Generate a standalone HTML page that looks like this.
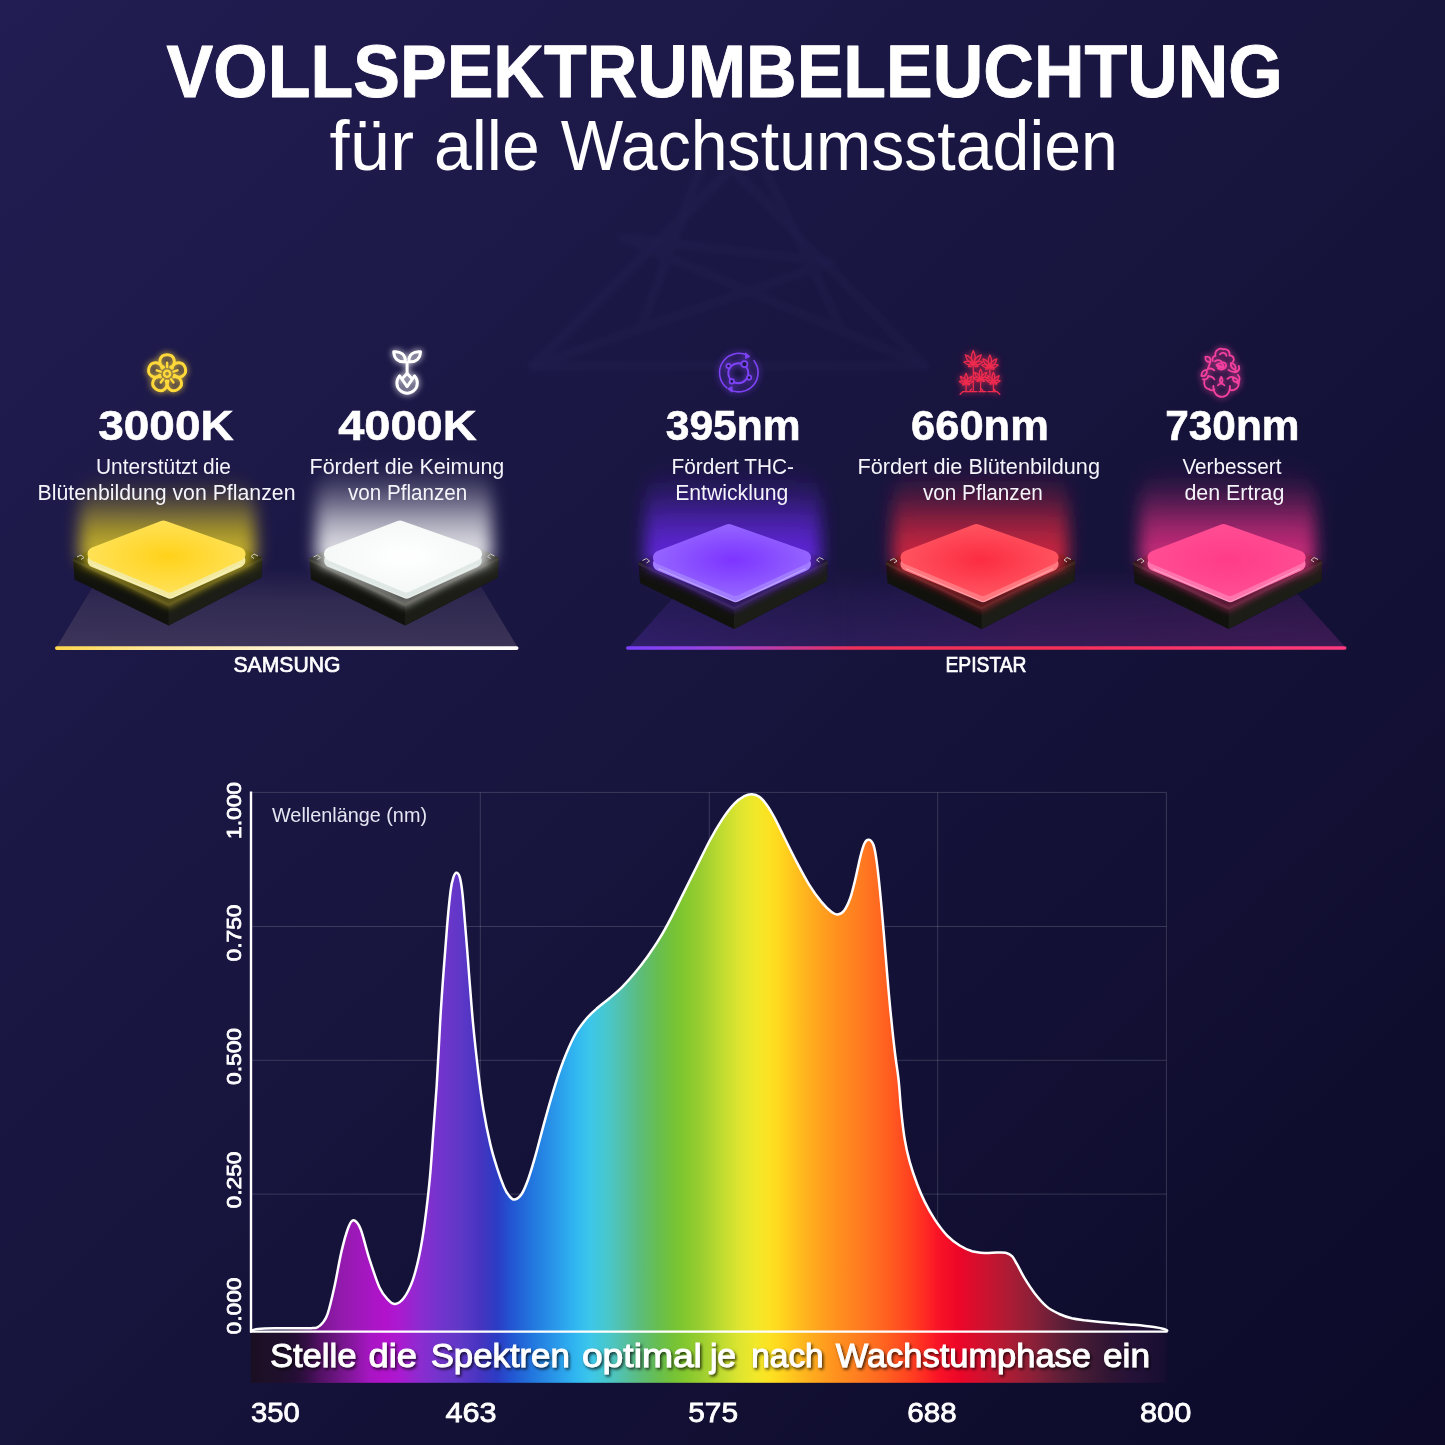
<!DOCTYPE html>
<html lang="de">
<head>
<meta charset="utf-8">
<title>Vollspektrumbeleuchtung für alle Wachstumsstadien</title>
<style>
html,body{margin:0;padding:0;background:#15133a;}
body{width:1445px;height:1445px;overflow:hidden;}
svg{display:block;font-family:"Liberation Sans", sans-serif;}
text{font-family:"Liberation Sans", sans-serif;}
</style>
</head>
<body>
<svg width="1445" height="1445" viewBox="0 0 1445 1445">

<defs>
<linearGradient id="bg" gradientUnits="userSpaceOnUse" x1="0" y1="0" x2="1400" y2="1490">
 <stop offset="0" stop-color="#221d52"/><stop offset="0.5" stop-color="#17143d"/><stop offset="1" stop-color="#0c0a28"/>
</linearGradient>
<filter id="b2" x="-50%" y="-50%" width="200%" height="200%"><feGaussianBlur stdDeviation="2"/></filter>
<filter id="b3" x="-50%" y="-50%" width="200%" height="200%"><feGaussianBlur stdDeviation="3.5"/></filter>
<filter id="b4" x="-60%" y="-60%" width="220%" height="220%"><feGaussianBlur stdDeviation="3.2"/></filter>
<filter id="b6" x="-50%" y="-50%" width="200%" height="200%"><feGaussianBlur stdDeviation="6"/></filter>
<filter id="b8" x="-50%" y="-50%" width="200%" height="200%"><feGaussianBlur stdDeviation="8"/></filter>
<filter id="b10" x="-50%" y="-50%" width="200%" height="200%"><feGaussianBlur stdDeviation="10"/></filter>
<filter id="ts" x="-5%" y="-30%" width="110%" height="160%"><feDropShadow dx="1.5" dy="2" stdDeviation="1.5" flood-color="#000" flood-opacity="0.75"/></filter>
<linearGradient id="spec" gradientUnits="userSpaceOnUse" x1="251" y1="0" x2="1167" y2="0">
 <stop offset="0.0000" stop-color="#1a1030" stop-opacity="0.0"/>
 <stop offset="0.0426" stop-color="#3a1050" stop-opacity="0.55"/>
 <stop offset="0.0731" stop-color="#7a1690" stop-opacity="1"/>
 <stop offset="0.0972" stop-color="#921aac" stop-opacity="1"/>
 <stop offset="0.1190" stop-color="#a018bc" stop-opacity="1"/>
 <stop offset="0.1463" stop-color="#b212cc" stop-opacity="1"/>
 <stop offset="0.1627" stop-color="#aa1ad0" stop-opacity="1"/>
 <stop offset="0.1845" stop-color="#8c2cd0" stop-opacity="1"/>
 <stop offset="0.2063" stop-color="#7234cc" stop-opacity="1"/>
 <stop offset="0.2282" stop-color="#6038c8" stop-opacity="1"/>
 <stop offset="0.2500" stop-color="#4634c0" stop-opacity="1"/>
 <stop offset="0.2686" stop-color="#2c3cc4" stop-opacity="1"/>
 <stop offset="0.2849" stop-color="#2256d2" stop-opacity="1"/>
 <stop offset="0.3068" stop-color="#2276de" stop-opacity="1"/>
 <stop offset="0.3341" stop-color="#2a9aea" stop-opacity="1"/>
 <stop offset="0.3537" stop-color="#30b6f0" stop-opacity="1"/>
 <stop offset="0.3701" stop-color="#3cc6ea" stop-opacity="1"/>
 <stop offset="0.3865" stop-color="#46c8d0" stop-opacity="1"/>
 <stop offset="0.4028" stop-color="#52c2b0" stop-opacity="1"/>
 <stop offset="0.4247" stop-color="#5cbc7a" stop-opacity="1"/>
 <stop offset="0.4432" stop-color="#66be52" stop-opacity="1"/>
 <stop offset="0.4596" stop-color="#74c238" stop-opacity="1"/>
 <stop offset="0.4738" stop-color="#82c82e" stop-opacity="1"/>
 <stop offset="0.4924" stop-color="#9cce30" stop-opacity="1"/>
 <stop offset="0.5109" stop-color="#badA30" stop-opacity="1"/>
 <stop offset="0.5317" stop-color="#dce430" stop-opacity="1"/>
 <stop offset="0.5502" stop-color="#f0e82a" stop-opacity="1"/>
 <stop offset="0.5655" stop-color="#fce222" stop-opacity="1"/>
 <stop offset="0.5797" stop-color="#ffd41e" stop-opacity="1"/>
 <stop offset="0.5950" stop-color="#ffc01e" stop-opacity="1"/>
 <stop offset="0.6157" stop-color="#ffa81e" stop-opacity="1"/>
 <stop offset="0.6376" stop-color="#ff921e" stop-opacity="1"/>
 <stop offset="0.6648" stop-color="#ff7c20" stop-opacity="1"/>
 <stop offset="0.6921" stop-color="#ff6220" stop-opacity="1"/>
 <stop offset="0.7194" stop-color="#ff4220" stop-opacity="1"/>
 <stop offset="0.7358" stop-color="#fe2a22" stop-opacity="1"/>
 <stop offset="0.7489" stop-color="#fa1426" stop-opacity="1"/>
 <stop offset="0.7740" stop-color="#ec0628" stop-opacity="1"/>
 <stop offset="0.8013" stop-color="#cc1230" stop-opacity="1"/>
 <stop offset="0.8275" stop-color="#ac1c34" stop-opacity="1"/>
 <stop offset="0.8548" stop-color="#8a2038" stop-opacity="1"/>
 <stop offset="0.8821" stop-color="#662038" stop-opacity="0.95"/>
 <stop offset="0.9094" stop-color="#4a1c36" stop-opacity="0.9"/>
 <stop offset="0.9367" stop-color="#341634" stop-opacity="0.9"/>
 <stop offset="0.9640" stop-color="#28123a" stop-opacity="0.85"/>
 <stop offset="0.9924" stop-color="#1e1034" stop-opacity="0.7"/>
 <stop offset="1.0000" stop-color="#1a0e30" stop-opacity="0.5"/>
</linearGradient>
<linearGradient id="bandfade" gradientUnits="userSpaceOnUse" x1="251" y1="0" x2="1167" y2="0">
 <stop offset="0" stop-color="#1a0e22" stop-opacity="1"/>
 <stop offset="0.02" stop-color="#1e1028" stop-opacity="0.95"/>
 <stop offset="0.07" stop-color="#200a2c" stop-opacity="0.5"/>
 <stop offset="0.13" stop-color="#200a2c" stop-opacity="0"/>
 <stop offset="1" stop-color="#140c24" stop-opacity="0"/>
</linearGradient>
<linearGradient id="lnS" x1="0" y1="0" x2="1" y2="0">
 <stop offset="0" stop-color="#ffd64a"/><stop offset="0.2" stop-color="#ffe694"/><stop offset="0.5" stop-color="#fff4d4"/><stop offset="1" stop-color="#ffffff"/>
</linearGradient>
<linearGradient id="lnE" x1="0" y1="0" x2="1" y2="0">
 <stop offset="0" stop-color="#7a40ff"/><stop offset="0.12" stop-color="#9a44e0"/><stop offset="0.32" stop-color="#ee3058"/><stop offset="0.6" stop-color="#f43058"/><stop offset="1" stop-color="#ff3a80"/>
</linearGradient>
<linearGradient id="flS" x1="0" y1="0" x2="0" y2="1">
 <stop offset="0" stop-color="#4a4060" stop-opacity="0.0"/><stop offset="0.4" stop-color="#4a4060" stop-opacity="0.45"/><stop offset="1" stop-color="#4a4060" stop-opacity="0.72"/>
</linearGradient>
<linearGradient id="flE" x1="0" y1="0" x2="0" y2="1">
 <stop offset="0" stop-color="#4a2a80" stop-opacity="0.0"/><stop offset="0.4" stop-color="#4a2a80" stop-opacity="0.22"/><stop offset="1" stop-color="#4a2a80" stop-opacity="0.42"/>
</linearGradient>
<linearGradient id="flE2" gradientUnits="userSpaceOnUse" x1="628" y1="0" x2="1346" y2="0">
 <stop offset="0" stop-color="#3a22a0" stop-opacity="0.25"/><stop offset="0.3" stop-color="#40207a" stop-opacity="0.0"/><stop offset="0.55" stop-color="#6a1a50" stop-opacity="0.18"/><stop offset="1" stop-color="#6a1a50" stop-opacity="0.3"/>
</linearGradient>
<linearGradient id="flmg" gradientUnits="userSpaceOnUse" x1="0" y1="568" x2="0" y2="648">
 <stop offset="0" stop-color="#000"/><stop offset="0.5" stop-color="#999"/><stop offset="1" stop-color="#fff"/>
</linearGradient>
<mask id="flm" maskUnits="userSpaceOnUse" x="600" y="560" width="800" height="100"><rect x="600" y="560" width="800" height="100" fill="url(#flmg)"/></mask>
<linearGradient id="baseL" x1="0" y1="0" x2="1" y2="0">
 <stop offset="0" stop-color="#0a0a08"/><stop offset="1" stop-color="#1c1c16"/>
</linearGradient>
</defs>
<rect width="1445" height="1445" fill="url(#bg)"/><g fill="none" stroke="#8a80ff" stroke-opacity="0.018" stroke-width="10" stroke-linejoin="round" stroke-linecap="round" filter="url(#b2)"><path d="M732,168 L533,366 L925,366 Z"/><path d="M533,366 L832,262 M925,366 L623,238 M623,238 L832,262 M700,170 L640,330 M765,170 L842,330 "/></g><text x="166.6" y="97.2" font-size="73.5" font-weight="700" fill="#fff" textLength="1116.2" lengthAdjust="spacingAndGlyphs" stroke="#fff" stroke-width="0.9" stroke-linejoin="round">VOLLSPEKTRUMBELEUCHTUNG</text><text y="170.2" font-size="71" font-weight="400" fill="#fff"><tspan x="329.6" textLength="84.4" lengthAdjust="spacingAndGlyphs">für</tspan> <tspan x="433.9" textLength="105.9" lengthAdjust="spacingAndGlyphs">alle</tspan> <tspan x="560.8" textLength="557.0" lengthAdjust="spacingAndGlyphs">Wachstumsstadien</tspan></text><path d="M56,648 L104,568 L470,568 L518,648 Z" fill="url(#flS)"/><path d="M628,648 L700,568 L1274,568 L1346,648 Z" fill="url(#flE)"/><path d="M628,648 L700,568 L1274,568 L1346,648 Z" fill="url(#flE2)" mask="url(#flm)"/><linearGradient id="gla" gradientUnits="userSpaceOnUse" x1="0" y1="472.5" x2="0" y2="546.5">
 <stop offset="0" stop-color="#e8d020" stop-opacity="0"/><stop offset="0.2" stop-color="#e8d020" stop-opacity="0.08"/><stop offset="0.45" stop-color="#e8d020" stop-opacity="0.30"/><stop offset="0.7" stop-color="#e8d020" stop-opacity="0.58"/><stop offset="1" stop-color="#e8d020" stop-opacity="0.8"/>
</linearGradient>
<radialGradient id="pda" gradientUnits="userSpaceOnUse" cx="167.5" cy="556.5" r="85" gradientTransform="translate(0 306.1) scale(1 0.45)">
 <stop offset="0" stop-color="#ffd21a"/><stop offset="1" stop-color="#ffe25a"/>
</radialGradient>
<path d="M73.0,558.5 L87.0,551.5 L248.0,550.5 L262.0,557.5 L261.5,577.5 L168.5,625.5 L74.5,579.5 Z" fill="#11120d"/><path d="M168.5,603.5 L262.0,557.5 L261.5,577.5 L168.5,625.5 Z" fill="#1b1d16"/><path d="M73.0,558.5 L168.5,603.5 L262.0,557.5 L262.0,560.5 L168.5,606.5 L73.0,561.5 Z" fill="#26261c"/><path d="M79.5,560.5 L79.5,512.5 Q79.5,472.5 119.5,472.5 L215.5,472.5 Q255.5,472.5 255.5,512.5 L255.5,560.5 L167.5,588.5 Z" fill="url(#gla)" filter="url(#b8)"/><path d="M85.0,561.5 L168.5,603.5 L250.0,560.5" fill="none" stroke="#e8d020" stroke-opacity="0.4" stroke-width="9" filter="url(#b4)"/><path d="M77.0,557.0 l4,-2 l3,2.5 l-3,2" fill="none" stroke="#c8c8c0" stroke-width="1"/><path d="M258.0,556.0 l-4,-2 l-3,2.5 l3,2" fill="none" stroke="#c8c8c0" stroke-width="1"/><path d="M94.5,560.5 L163.5,531.5 L238.5,560.5 L170.0,591.5 Z" fill="#f3eaa0" stroke="#f3eaa0" stroke-width="14" stroke-linejoin="round"/><path d="M93.5,565.5 L170.0,598.5 L239.5,565.5" fill="none" stroke="#ffffff" stroke-opacity="0.3" stroke-width="1.3" stroke-linejoin="round" stroke-linecap="round"/><path d="M94.5,554.0 L163.5,527.5 L238.5,554.0 L170.0,585.5 Z" fill="url(#pda)" stroke="url(#pda)" stroke-width="14" stroke-linejoin="round"/><linearGradient id="glb" gradientUnits="userSpaceOnUse" x1="0" y1="460.5" x2="0" y2="546.5">
 <stop offset="0" stop-color="#ffffff" stop-opacity="0"/><stop offset="0.2" stop-color="#ffffff" stop-opacity="0.09"/><stop offset="0.45" stop-color="#ffffff" stop-opacity="0.32"/><stop offset="0.7" stop-color="#ffffff" stop-opacity="0.61"/><stop offset="1" stop-color="#ffffff" stop-opacity="0.85"/>
</linearGradient>
<radialGradient id="pdb" gradientUnits="userSpaceOnUse" cx="404" cy="556.5" r="85" gradientTransform="translate(0 306.1) scale(1 0.45)">
 <stop offset="0" stop-color="#ffffff"/><stop offset="1" stop-color="#f4f8f6"/>
</radialGradient>
<path d="M309.5,558.5 L323.5,551.5 L484.5,550.5 L498.5,557.5 L498.0,577.5 L405,625.5 L311.0,579.5 Z" fill="#11120d"/><path d="M405,603.5 L498.5,557.5 L498.0,577.5 L405,625.5 Z" fill="#1b1d16"/><path d="M309.5,558.5 L405,603.5 L498.5,557.5 L498.5,560.5 L405,606.5 L309.5,561.5 Z" fill="#26261c"/><path d="M316,560.5 L316,500.5 Q316,460.5 356,460.5 L452,460.5 Q492,460.5 492,500.5 L492,560.5 L404,588.5 Z" fill="url(#glb)" filter="url(#b8)"/><path d="M321.5,561.5 L405,603.5 L486.5,560.5" fill="none" stroke="#ffffff" stroke-opacity="0.4" stroke-width="9" filter="url(#b4)"/><path d="M313.5,557.0 l4,-2 l3,2.5 l-3,2" fill="none" stroke="#c8c8c0" stroke-width="1"/><path d="M494.5,556.0 l-4,-2 l-3,2.5 l3,2" fill="none" stroke="#c8c8c0" stroke-width="1"/><path d="M331,560.5 L400,531.5 L475,560.5 L406.5,591.5 Z" fill="#dfe8e4" stroke="#dfe8e4" stroke-width="14" stroke-linejoin="round"/><path d="M330,565.5 L406.5,598.5 L476,565.5" fill="none" stroke="#ffffff" stroke-opacity="0.3" stroke-width="1.3" stroke-linejoin="round" stroke-linecap="round"/><path d="M331,554.0 L400,527.5 L475,554.0 L406.5,585.5 Z" fill="url(#pdb)" stroke="url(#pdb)" stroke-width="14" stroke-linejoin="round"/><linearGradient id="glc" gradientUnits="userSpaceOnUse" x1="0" y1="464" x2="0" y2="550">
 <stop offset="0" stop-color="#6a28f0" stop-opacity="0"/><stop offset="0.2" stop-color="#6a28f0" stop-opacity="0.09"/><stop offset="0.45" stop-color="#6a28f0" stop-opacity="0.32"/><stop offset="0.7" stop-color="#6a28f0" stop-opacity="0.61"/><stop offset="1" stop-color="#6a28f0" stop-opacity="0.85"/>
</linearGradient>
<radialGradient id="pdc" gradientUnits="userSpaceOnUse" cx="733" cy="560" r="85" gradientTransform="translate(0 308.0) scale(1 0.45)">
 <stop offset="0" stop-color="#7c34ff"/><stop offset="1" stop-color="#9668ff"/>
</radialGradient>
<path d="M638.5,562 L652.5,555 L813.5,554 L827.5,561 L827.0,581 L734,629 L640.0,583 Z" fill="#11120d"/><path d="M734,607 L827.5,561 L827.0,581 L734,629 Z" fill="#1b1d16"/><path d="M638.5,562 L734,607 L827.5,561 L827.5,564 L734,610 L638.5,565 Z" fill="#26261c"/><path d="M645,564 L645,504 Q645,464 685,464 L781,464 Q821,464 821,504 L821,564 L733,592 Z" fill="url(#glc)" filter="url(#b8)"/><path d="M650.5,565 L734,607 L815.5,564" fill="none" stroke="#6a28f0" stroke-opacity="0.4" stroke-width="9" filter="url(#b4)"/><path d="M642.5,560.5 l4,-2 l3,2.5 l-3,2" fill="none" stroke="#c8c8c0" stroke-width="1"/><path d="M823.5,559.5 l-4,-2 l-3,2.5 l3,2" fill="none" stroke="#c8c8c0" stroke-width="1"/><path d="M660,564 L729,535 L804,564 L735.5,595 Z" fill="#a27cff" stroke="#a27cff" stroke-width="14" stroke-linejoin="round"/><path d="M659,569 L735.5,602 L805,569" fill="none" stroke="#ffffff" stroke-opacity="0.3" stroke-width="1.3" stroke-linejoin="round" stroke-linecap="round"/><path d="M660,557.5 L729,531 L804,557.5 L735.5,589 Z" fill="url(#pdc)" stroke="url(#pdc)" stroke-width="14" stroke-linejoin="round"/><linearGradient id="gld" gradientUnits="userSpaceOnUse" x1="0" y1="464" x2="0" y2="550">
 <stop offset="0" stop-color="#f02840" stop-opacity="0"/><stop offset="0.2" stop-color="#f02840" stop-opacity="0.08"/><stop offset="0.45" stop-color="#f02840" stop-opacity="0.30"/><stop offset="0.7" stop-color="#f02840" stop-opacity="0.58"/><stop offset="1" stop-color="#f02840" stop-opacity="0.8"/>
</linearGradient>
<radialGradient id="pdd" gradientUnits="userSpaceOnUse" cx="980.5" cy="560" r="85" gradientTransform="translate(0 308.0) scale(1 0.45)">
 <stop offset="0" stop-color="#fc2c42"/><stop offset="1" stop-color="#ff5662"/>
</radialGradient>
<path d="M886.0,562 L900.0,555 L1061.0,554 L1075.0,561 L1074.5,581 L981.5,629 L887.5,583 Z" fill="#11120d"/><path d="M981.5,607 L1075.0,561 L1074.5,581 L981.5,629 Z" fill="#1b1d16"/><path d="M886.0,562 L981.5,607 L1075.0,561 L1075.0,564 L981.5,610 L886.0,565 Z" fill="#26261c"/><path d="M892.5,564 L892.5,504 Q892.5,464 932.5,464 L1028.5,464 Q1068.5,464 1068.5,504 L1068.5,564 L980.5,592 Z" fill="url(#gld)" filter="url(#b8)"/><path d="M898.0,565 L981.5,607 L1063.0,564" fill="none" stroke="#f02840" stroke-opacity="0.4" stroke-width="9" filter="url(#b4)"/><path d="M890.0,560.5 l4,-2 l3,2.5 l-3,2" fill="none" stroke="#c8c8c0" stroke-width="1"/><path d="M1071.0,559.5 l-4,-2 l-3,2.5 l3,2" fill="none" stroke="#c8c8c0" stroke-width="1"/><path d="M907.5,564 L976.5,535 L1051.5,564 L983.0,595 Z" fill="#ff7880" stroke="#ff7880" stroke-width="14" stroke-linejoin="round"/><path d="M906.5,569 L983.0,602 L1052.5,569" fill="none" stroke="#ffffff" stroke-opacity="0.3" stroke-width="1.3" stroke-linejoin="round" stroke-linecap="round"/><path d="M907.5,557.5 L976.5,531 L1051.5,557.5 L983.0,589 Z" fill="url(#pdd)" stroke="url(#pdd)" stroke-width="14" stroke-linejoin="round"/><linearGradient id="gle" gradientUnits="userSpaceOnUse" x1="0" y1="464" x2="0" y2="550">
 <stop offset="0" stop-color="#f03088" stop-opacity="0"/><stop offset="0.2" stop-color="#f03088" stop-opacity="0.08"/><stop offset="0.45" stop-color="#f03088" stop-opacity="0.30"/><stop offset="0.7" stop-color="#f03088" stop-opacity="0.58"/><stop offset="1" stop-color="#f03088" stop-opacity="0.8"/>
</linearGradient>
<radialGradient id="pde" gradientUnits="userSpaceOnUse" cx="1227.6" cy="560" r="85" gradientTransform="translate(0 308.0) scale(1 0.45)">
 <stop offset="0" stop-color="#ff3c88"/><stop offset="1" stop-color="#ff4e94"/>
</radialGradient>
<path d="M1133.1,562 L1147.1,555 L1308.1,554 L1322.1,561 L1321.6,581 L1228.6,629 L1134.6,583 Z" fill="#11120d"/><path d="M1228.6,607 L1322.1,561 L1321.6,581 L1228.6,629 Z" fill="#1b1d16"/><path d="M1133.1,562 L1228.6,607 L1322.1,561 L1322.1,564 L1228.6,610 L1133.1,565 Z" fill="#26261c"/><path d="M1139.6,564 L1139.6,504 Q1139.6,464 1179.6,464 L1275.6,464 Q1315.6,464 1315.6,504 L1315.6,564 L1227.6,592 Z" fill="url(#gle)" filter="url(#b8)"/><path d="M1145.1,565 L1228.6,607 L1310.1,564" fill="none" stroke="#f03088" stroke-opacity="0.4" stroke-width="9" filter="url(#b4)"/><path d="M1137.1,560.5 l4,-2 l3,2.5 l-3,2" fill="none" stroke="#c8c8c0" stroke-width="1"/><path d="M1318.1,559.5 l-4,-2 l-3,2.5 l3,2" fill="none" stroke="#c8c8c0" stroke-width="1"/><path d="M1154.6,564 L1223.6,535 L1298.6,564 L1230.1,595 Z" fill="#ff74ac" stroke="#ff74ac" stroke-width="14" stroke-linejoin="round"/><path d="M1153.6,569 L1230.1,602 L1299.6,569" fill="none" stroke="#ffffff" stroke-opacity="0.3" stroke-width="1.3" stroke-linejoin="round" stroke-linecap="round"/><path d="M1154.6,557.5 L1223.6,531 L1298.6,557.5 L1230.1,589 Z" fill="url(#pde)" stroke="url(#pde)" stroke-width="14" stroke-linejoin="round"/><rect x="55" y="646.2" width="463.5" height="3.8" rx="1.9" fill="url(#lnS)"/><rect x="626" y="646.2" width="720.5" height="3.6" rx="1.8" fill="url(#lnE)"/><text x="233.5" y="672.3" font-size="22" font-weight="400" fill="#fff" textLength="107.0" lengthAdjust="spacingAndGlyphs" stroke="#fff" stroke-width="0.7">SAMSUNG</text><text x="945.5" y="672.3" font-size="22" font-weight="400" fill="#fff" textLength="81.0" lengthAdjust="spacingAndGlyphs" stroke="#fff" stroke-width="0.7">EPISTAR</text><g filter="url(#b4)" opacity="0.88"><g transform="translate(167.1,373.7) scale(0.99)" fill="none" stroke="#ffd93a" stroke-width="3.0" stroke-linecap="round" stroke-linejoin="round"><g transform="rotate(0)"><path d="M-3.6,-6.6 C-9.6,-9.5 -8.2,-19.2 0,-19.2 C8.2,-19.2 9.6,-9.5 3.6,-6.6"/><path d="M0,-6.8 L0,-11" stroke-width="2.5"/></g><g transform="rotate(72)"><path d="M-3.6,-6.6 C-9.6,-9.5 -8.2,-19.2 0,-19.2 C8.2,-19.2 9.6,-9.5 3.6,-6.6"/><path d="M0,-6.8 L0,-11" stroke-width="2.5"/></g><g transform="rotate(144)"><path d="M-3.6,-6.6 C-9.6,-9.5 -8.2,-19.2 0,-19.2 C8.2,-19.2 9.6,-9.5 3.6,-6.6"/><path d="M0,-6.8 L0,-11" stroke-width="2.5"/></g><g transform="rotate(216)"><path d="M-3.6,-6.6 C-9.6,-9.5 -8.2,-19.2 0,-19.2 C8.2,-19.2 9.6,-9.5 3.6,-6.6"/><path d="M0,-6.8 L0,-11" stroke-width="2.5"/></g><g transform="rotate(288)"><path d="M-3.6,-6.6 C-9.6,-9.5 -8.2,-19.2 0,-19.2 C8.2,-19.2 9.6,-9.5 3.6,-6.6"/><path d="M0,-6.8 L0,-11" stroke-width="2.5"/></g><circle r="3.1" stroke-width="2.5"/></g><g transform="translate(167.1,373.7) scale(0.99)" fill="none" stroke="#ffd93a" stroke-width="3.0" stroke-linecap="round" stroke-linejoin="round"><g transform="rotate(0)"><path d="M-3.6,-6.6 C-9.6,-9.5 -8.2,-19.2 0,-19.2 C8.2,-19.2 9.6,-9.5 3.6,-6.6"/><path d="M0,-6.8 L0,-11" stroke-width="2.5"/></g><g transform="rotate(72)"><path d="M-3.6,-6.6 C-9.6,-9.5 -8.2,-19.2 0,-19.2 C8.2,-19.2 9.6,-9.5 3.6,-6.6"/><path d="M0,-6.8 L0,-11" stroke-width="2.5"/></g><g transform="rotate(144)"><path d="M-3.6,-6.6 C-9.6,-9.5 -8.2,-19.2 0,-19.2 C8.2,-19.2 9.6,-9.5 3.6,-6.6"/><path d="M0,-6.8 L0,-11" stroke-width="2.5"/></g><g transform="rotate(216)"><path d="M-3.6,-6.6 C-9.6,-9.5 -8.2,-19.2 0,-19.2 C8.2,-19.2 9.6,-9.5 3.6,-6.6"/><path d="M0,-6.8 L0,-11" stroke-width="2.5"/></g><g transform="rotate(288)"><path d="M-3.6,-6.6 C-9.6,-9.5 -8.2,-19.2 0,-19.2 C8.2,-19.2 9.6,-9.5 3.6,-6.6"/><path d="M0,-6.8 L0,-11" stroke-width="2.5"/></g><circle r="3.1" stroke-width="2.5"/></g></g><g transform="translate(167.1,373.7) scale(0.99)" fill="none" stroke="#ffd93a" stroke-width="3.0" stroke-linecap="round" stroke-linejoin="round"><g transform="rotate(0)"><path d="M-3.6,-6.6 C-9.6,-9.5 -8.2,-19.2 0,-19.2 C8.2,-19.2 9.6,-9.5 3.6,-6.6"/><path d="M0,-6.8 L0,-11" stroke-width="2.5"/></g><g transform="rotate(72)"><path d="M-3.6,-6.6 C-9.6,-9.5 -8.2,-19.2 0,-19.2 C8.2,-19.2 9.6,-9.5 3.6,-6.6"/><path d="M0,-6.8 L0,-11" stroke-width="2.5"/></g><g transform="rotate(144)"><path d="M-3.6,-6.6 C-9.6,-9.5 -8.2,-19.2 0,-19.2 C8.2,-19.2 9.6,-9.5 3.6,-6.6"/><path d="M0,-6.8 L0,-11" stroke-width="2.5"/></g><g transform="rotate(216)"><path d="M-3.6,-6.6 C-9.6,-9.5 -8.2,-19.2 0,-19.2 C8.2,-19.2 9.6,-9.5 3.6,-6.6"/><path d="M0,-6.8 L0,-11" stroke-width="2.5"/></g><g transform="rotate(288)"><path d="M-3.6,-6.6 C-9.6,-9.5 -8.2,-19.2 0,-19.2 C8.2,-19.2 9.6,-9.5 3.6,-6.6"/><path d="M0,-6.8 L0,-11" stroke-width="2.5"/></g><circle r="3.1" stroke-width="2.5"/></g><g filter="url(#b4)" opacity="0.88"><g transform="translate(406.9,373.0)" fill="none" stroke="#ffffff" stroke-width="3" stroke-linecap="round" stroke-linejoin="round"><path d="M-13.2,-21.2 C-6,-22 -1.2,-18 -1.6,-11.2 C-8.6,-10.6 -13,-14.5 -13.2,-21.2 Z"/><path d="M13.6,-21.2 C6.4,-22 1.6,-18 2,-11.2 C9,-10.6 13.4,-14.5 13.6,-21.2 Z"/><path d="M0.2,-10.5 L0.2,0.5"/><path d="M0.2,0.5 L-3.6,4.6 M0.2,0.5 L4,4.6"/><path d="M-7.2,3 L0.2,13.6 L7.6,3"/><path d="M-7.2,3 A10.2,10.2 0 1 0 7.6,3"/></g><g transform="translate(406.9,373.0)" fill="none" stroke="#ffffff" stroke-width="3" stroke-linecap="round" stroke-linejoin="round"><path d="M-13.2,-21.2 C-6,-22 -1.2,-18 -1.6,-11.2 C-8.6,-10.6 -13,-14.5 -13.2,-21.2 Z"/><path d="M13.6,-21.2 C6.4,-22 1.6,-18 2,-11.2 C9,-10.6 13.4,-14.5 13.6,-21.2 Z"/><path d="M0.2,-10.5 L0.2,0.5"/><path d="M0.2,0.5 L-3.6,4.6 M0.2,0.5 L4,4.6"/><path d="M-7.2,3 L0.2,13.6 L7.6,3"/><path d="M-7.2,3 A10.2,10.2 0 1 0 7.6,3"/></g></g><g transform="translate(406.9,373.0)" fill="none" stroke="#ffffff" stroke-width="3" stroke-linecap="round" stroke-linejoin="round"><path d="M-13.2,-21.2 C-6,-22 -1.2,-18 -1.6,-11.2 C-8.6,-10.6 -13,-14.5 -13.2,-21.2 Z"/><path d="M13.6,-21.2 C6.4,-22 1.6,-18 2,-11.2 C9,-10.6 13.4,-14.5 13.6,-21.2 Z"/><path d="M0.2,-10.5 L0.2,0.5"/><path d="M0.2,0.5 L-3.6,4.6 M0.2,0.5 L4,4.6"/><path d="M-7.2,3 L0.2,13.6 L7.6,3"/><path d="M-7.2,3 A10.2,10.2 0 1 0 7.6,3"/></g><g filter="url(#b4)" opacity="0.96"><g transform="translate(738.8,372.6)" fill="none" stroke="#7d42f5" stroke-width="1.6" stroke-linecap="round" stroke-linejoin="round"><path d="M-11.9,15.2 A19.3,19.3 0 0 1 9.1,-17.0"/><path d="M15.2,-11.9 A19.3,19.3 0 0 1 -9.1,17.0"/><path d="M7.1,-19.3 L11.1,-16.1 L7.1,-14.3 Z" fill="#7d42f5" stroke-width="1"/><path d="M-7.0,19.3 L-11.0,16.1 L-7.0,14.3 Z" fill="#7d42f5" stroke-width="1"/><circle cx="-0.5" cy="0.6" r="10" stroke-width="1.9"/><circle cx="5.6" cy="-8.4" r="3.0" fill="#1b1745" stroke-width="1.7"/><circle cx="-10.3" cy="-6.6" r="2.1" fill="#1b1745" stroke-width="1.7"/><circle cx="10.3" cy="5.0" r="2.2" fill="#1b1745" stroke-width="1.7"/><circle cx="-7.0" cy="8.8" r="2.2" fill="#1b1745" stroke-width="1.7"/></g></g><g transform="translate(738.8,372.6)" fill="none" stroke="#7d42f5" stroke-width="1.6" stroke-linecap="round" stroke-linejoin="round"><path d="M-11.9,15.2 A19.3,19.3 0 0 1 9.1,-17.0"/><path d="M15.2,-11.9 A19.3,19.3 0 0 1 -9.1,17.0"/><path d="M7.1,-19.3 L11.1,-16.1 L7.1,-14.3 Z" fill="#7d42f5" stroke-width="1"/><path d="M-7.0,19.3 L-11.0,16.1 L-7.0,14.3 Z" fill="#7d42f5" stroke-width="1"/><circle cx="-0.5" cy="0.6" r="10" stroke-width="1.9"/><circle cx="5.6" cy="-8.4" r="3.0" fill="#1b1745" stroke-width="1.7"/><circle cx="-10.3" cy="-6.6" r="2.1" fill="#1b1745" stroke-width="1.7"/><circle cx="10.3" cy="5.0" r="2.2" fill="#1b1745" stroke-width="1.7"/><circle cx="-7.0" cy="8.8" r="2.2" fill="#1b1745" stroke-width="1.7"/></g><g filter="url(#b4)" opacity="0.96"><g transform="translate(979.9,371.8)" fill="none" stroke="#ee2b4f" stroke-width="1.3" stroke-linecap="round" stroke-linejoin="round"><g transform="translate(-6.6,-8.0)"><path transform="rotate(0)" d="M0,0 C-2.6,-4.0 -2.6,-8.2 0,-13.2 C2.6,-8.2 2.6,-4.0 0,0 Z"/><path transform="rotate(-42)" d="M0,0 C-2.5,-3.6 -2.5,-7.4 0,-11.9 C2.5,-7.4 2.5,-3.6 0,0 Z"/><path transform="rotate(42)" d="M0,0 C-2.5,-3.6 -2.5,-7.4 0,-11.9 C2.5,-7.4 2.5,-3.6 0,0 Z"/><path transform="rotate(-80)" d="M0,0 C-2.4,-2.9 -2.4,-5.9 0,-9.5 C2.4,-5.9 2.4,-2.9 0,0 Z"/><path transform="rotate(80)" d="M0,0 C-2.4,-2.9 -2.4,-5.9 0,-9.5 C2.4,-5.9 2.4,-2.9 0,0 Z"/><path transform="rotate(-120)" d="M0,0 C-1.8,-1.7 -1.8,-3.4 0,-5.5 C1.8,-3.4 1.8,-1.7 0,0 Z"/><path transform="rotate(120)" d="M0,0 C-1.8,-1.7 -1.8,-3.4 0,-5.5 C1.8,-3.4 1.8,-1.7 0,0 Z"/></g><g transform="translate(10.0,-5.2)"><path transform="rotate(0)" d="M0,0 C-2.3,-3.5 -2.3,-7.2 0,-11.6 C2.3,-7.2 2.3,-3.5 0,0 Z"/><path transform="rotate(-42)" d="M0,0 C-2.2,-3.1 -2.2,-6.5 0,-10.4 C2.2,-6.5 2.2,-3.1 0,0 Z"/><path transform="rotate(42)" d="M0,0 C-2.2,-3.1 -2.2,-6.5 0,-10.4 C2.2,-6.5 2.2,-3.1 0,0 Z"/><path transform="rotate(-80)" d="M0,0 C-2.1,-2.5 -2.1,-5.2 0,-8.4 C2.1,-5.2 2.1,-2.5 0,0 Z"/><path transform="rotate(80)" d="M0,0 C-2.1,-2.5 -2.1,-5.2 0,-8.4 C2.1,-5.2 2.1,-2.5 0,0 Z"/><path transform="rotate(-120)" d="M0,0 C-1.6,-1.5 -1.6,-3.0 0,-4.9 C1.6,-3.0 1.6,-1.5 0,0 Z"/><path transform="rotate(120)" d="M0,0 C-1.6,-1.5 -1.6,-3.0 0,-4.9 C1.6,-3.0 1.6,-1.5 0,0 Z"/></g><g transform="translate(-13.8,11.0)"><path transform="rotate(0)" d="M0,0 C-1.9,-2.9 -1.9,-6.0 0,-9.6 C1.9,-6.0 1.9,-2.9 0,0 Z"/><path transform="rotate(-42)" d="M0,0 C-1.8,-2.6 -1.8,-5.4 0,-8.6 C1.8,-5.4 1.8,-2.6 0,0 Z"/><path transform="rotate(42)" d="M0,0 C-1.8,-2.6 -1.8,-5.4 0,-8.6 C1.8,-5.4 1.8,-2.6 0,0 Z"/><path transform="rotate(-80)" d="M0,0 C-1.7,-2.1 -1.7,-4.3 0,-6.9 C1.7,-4.3 1.7,-2.1 0,0 Z"/><path transform="rotate(80)" d="M0,0 C-1.7,-2.1 -1.7,-4.3 0,-6.9 C1.7,-4.3 1.7,-2.1 0,0 Z"/><path transform="rotate(-120)" d="M0,0 C-1.3,-1.2 -1.3,-2.5 0,-4.0 C1.3,-2.5 1.3,-1.2 0,0 Z"/><path transform="rotate(120)" d="M0,0 C-1.3,-1.2 -1.3,-2.5 0,-4.0 C1.3,-2.5 1.3,-1.2 0,0 Z"/></g><g transform="translate(0.7,7.4)"><path transform="rotate(0)" d="M0,0 C-2.0,-3.1 -2.0,-6.3 0,-10.2 C2.0,-6.3 2.0,-3.1 0,0 Z"/><path transform="rotate(-42)" d="M0,0 C-1.9,-2.8 -1.9,-5.7 0,-9.2 C1.9,-5.7 1.9,-2.8 0,0 Z"/><path transform="rotate(42)" d="M0,0 C-1.9,-2.8 -1.9,-5.7 0,-9.2 C1.9,-5.7 1.9,-2.8 0,0 Z"/><path transform="rotate(-80)" d="M0,0 C-1.8,-2.2 -1.8,-4.6 0,-7.3 C1.8,-4.6 1.8,-2.2 0,0 Z"/><path transform="rotate(80)" d="M0,0 C-1.8,-2.2 -1.8,-4.6 0,-7.3 C1.8,-4.6 1.8,-2.2 0,0 Z"/><path transform="rotate(-120)" d="M0,0 C-1.4,-1.3 -1.4,-2.7 0,-4.3 C1.4,-2.7 1.4,-1.3 0,0 Z"/><path transform="rotate(120)" d="M0,0 C-1.4,-1.3 -1.4,-2.7 0,-4.3 C1.4,-2.7 1.4,-1.3 0,0 Z"/></g><g transform="translate(13.5,10.2)"><path transform="rotate(0)" d="M0,0 C-1.9,-2.9 -1.9,-6.0 0,-9.6 C1.9,-6.0 1.9,-2.9 0,0 Z"/><path transform="rotate(-42)" d="M0,0 C-1.8,-2.6 -1.8,-5.4 0,-8.6 C1.8,-5.4 1.8,-2.6 0,0 Z"/><path transform="rotate(42)" d="M0,0 C-1.8,-2.6 -1.8,-5.4 0,-8.6 C1.8,-5.4 1.8,-2.6 0,0 Z"/><path transform="rotate(-80)" d="M0,0 C-1.7,-2.1 -1.7,-4.3 0,-6.9 C1.7,-4.3 1.7,-2.1 0,0 Z"/><path transform="rotate(80)" d="M0,0 C-1.7,-2.1 -1.7,-4.3 0,-6.9 C1.7,-4.3 1.7,-2.1 0,0 Z"/><path transform="rotate(-120)" d="M0,0 C-1.3,-1.2 -1.3,-2.5 0,-4.0 C1.3,-2.5 1.3,-1.2 0,0 Z"/><path transform="rotate(120)" d="M0,0 C-1.3,-1.2 -1.3,-2.5 0,-4.0 C1.3,-2.5 1.3,-1.2 0,0 Z"/></g><path d="M-6.6,-5 L-6.6,19.8 M10,-2.5 L10,3.5 M0.7,10 L0.7,19.8 M-13.8,13.5 L-13.8,19.8 M13.5,12.5 L13.5,19.8"/><path d="M-19.8,22.4 L-17,19.8 L-3,19.8 M-1,19.8 L6,19.8 M8,19.8 L17,19.8 L19.9,22.4"/><path d="M-10.5,19.8 l2.2,-2.6 M3.5,19.8 l-2,-2.6 M16,19.8 l-1.8,-2.4"/></g></g><g transform="translate(979.9,371.8)" fill="none" stroke="#ee2b4f" stroke-width="1.3" stroke-linecap="round" stroke-linejoin="round"><g transform="translate(-6.6,-8.0)"><path transform="rotate(0)" d="M0,0 C-2.6,-4.0 -2.6,-8.2 0,-13.2 C2.6,-8.2 2.6,-4.0 0,0 Z"/><path transform="rotate(-42)" d="M0,0 C-2.5,-3.6 -2.5,-7.4 0,-11.9 C2.5,-7.4 2.5,-3.6 0,0 Z"/><path transform="rotate(42)" d="M0,0 C-2.5,-3.6 -2.5,-7.4 0,-11.9 C2.5,-7.4 2.5,-3.6 0,0 Z"/><path transform="rotate(-80)" d="M0,0 C-2.4,-2.9 -2.4,-5.9 0,-9.5 C2.4,-5.9 2.4,-2.9 0,0 Z"/><path transform="rotate(80)" d="M0,0 C-2.4,-2.9 -2.4,-5.9 0,-9.5 C2.4,-5.9 2.4,-2.9 0,0 Z"/><path transform="rotate(-120)" d="M0,0 C-1.8,-1.7 -1.8,-3.4 0,-5.5 C1.8,-3.4 1.8,-1.7 0,0 Z"/><path transform="rotate(120)" d="M0,0 C-1.8,-1.7 -1.8,-3.4 0,-5.5 C1.8,-3.4 1.8,-1.7 0,0 Z"/></g><g transform="translate(10.0,-5.2)"><path transform="rotate(0)" d="M0,0 C-2.3,-3.5 -2.3,-7.2 0,-11.6 C2.3,-7.2 2.3,-3.5 0,0 Z"/><path transform="rotate(-42)" d="M0,0 C-2.2,-3.1 -2.2,-6.5 0,-10.4 C2.2,-6.5 2.2,-3.1 0,0 Z"/><path transform="rotate(42)" d="M0,0 C-2.2,-3.1 -2.2,-6.5 0,-10.4 C2.2,-6.5 2.2,-3.1 0,0 Z"/><path transform="rotate(-80)" d="M0,0 C-2.1,-2.5 -2.1,-5.2 0,-8.4 C2.1,-5.2 2.1,-2.5 0,0 Z"/><path transform="rotate(80)" d="M0,0 C-2.1,-2.5 -2.1,-5.2 0,-8.4 C2.1,-5.2 2.1,-2.5 0,0 Z"/><path transform="rotate(-120)" d="M0,0 C-1.6,-1.5 -1.6,-3.0 0,-4.9 C1.6,-3.0 1.6,-1.5 0,0 Z"/><path transform="rotate(120)" d="M0,0 C-1.6,-1.5 -1.6,-3.0 0,-4.9 C1.6,-3.0 1.6,-1.5 0,0 Z"/></g><g transform="translate(-13.8,11.0)"><path transform="rotate(0)" d="M0,0 C-1.9,-2.9 -1.9,-6.0 0,-9.6 C1.9,-6.0 1.9,-2.9 0,0 Z"/><path transform="rotate(-42)" d="M0,0 C-1.8,-2.6 -1.8,-5.4 0,-8.6 C1.8,-5.4 1.8,-2.6 0,0 Z"/><path transform="rotate(42)" d="M0,0 C-1.8,-2.6 -1.8,-5.4 0,-8.6 C1.8,-5.4 1.8,-2.6 0,0 Z"/><path transform="rotate(-80)" d="M0,0 C-1.7,-2.1 -1.7,-4.3 0,-6.9 C1.7,-4.3 1.7,-2.1 0,0 Z"/><path transform="rotate(80)" d="M0,0 C-1.7,-2.1 -1.7,-4.3 0,-6.9 C1.7,-4.3 1.7,-2.1 0,0 Z"/><path transform="rotate(-120)" d="M0,0 C-1.3,-1.2 -1.3,-2.5 0,-4.0 C1.3,-2.5 1.3,-1.2 0,0 Z"/><path transform="rotate(120)" d="M0,0 C-1.3,-1.2 -1.3,-2.5 0,-4.0 C1.3,-2.5 1.3,-1.2 0,0 Z"/></g><g transform="translate(0.7,7.4)"><path transform="rotate(0)" d="M0,0 C-2.0,-3.1 -2.0,-6.3 0,-10.2 C2.0,-6.3 2.0,-3.1 0,0 Z"/><path transform="rotate(-42)" d="M0,0 C-1.9,-2.8 -1.9,-5.7 0,-9.2 C1.9,-5.7 1.9,-2.8 0,0 Z"/><path transform="rotate(42)" d="M0,0 C-1.9,-2.8 -1.9,-5.7 0,-9.2 C1.9,-5.7 1.9,-2.8 0,0 Z"/><path transform="rotate(-80)" d="M0,0 C-1.8,-2.2 -1.8,-4.6 0,-7.3 C1.8,-4.6 1.8,-2.2 0,0 Z"/><path transform="rotate(80)" d="M0,0 C-1.8,-2.2 -1.8,-4.6 0,-7.3 C1.8,-4.6 1.8,-2.2 0,0 Z"/><path transform="rotate(-120)" d="M0,0 C-1.4,-1.3 -1.4,-2.7 0,-4.3 C1.4,-2.7 1.4,-1.3 0,0 Z"/><path transform="rotate(120)" d="M0,0 C-1.4,-1.3 -1.4,-2.7 0,-4.3 C1.4,-2.7 1.4,-1.3 0,0 Z"/></g><g transform="translate(13.5,10.2)"><path transform="rotate(0)" d="M0,0 C-1.9,-2.9 -1.9,-6.0 0,-9.6 C1.9,-6.0 1.9,-2.9 0,0 Z"/><path transform="rotate(-42)" d="M0,0 C-1.8,-2.6 -1.8,-5.4 0,-8.6 C1.8,-5.4 1.8,-2.6 0,0 Z"/><path transform="rotate(42)" d="M0,0 C-1.8,-2.6 -1.8,-5.4 0,-8.6 C1.8,-5.4 1.8,-2.6 0,0 Z"/><path transform="rotate(-80)" d="M0,0 C-1.7,-2.1 -1.7,-4.3 0,-6.9 C1.7,-4.3 1.7,-2.1 0,0 Z"/><path transform="rotate(80)" d="M0,0 C-1.7,-2.1 -1.7,-4.3 0,-6.9 C1.7,-4.3 1.7,-2.1 0,0 Z"/><path transform="rotate(-120)" d="M0,0 C-1.3,-1.2 -1.3,-2.5 0,-4.0 C1.3,-2.5 1.3,-1.2 0,0 Z"/><path transform="rotate(120)" d="M0,0 C-1.3,-1.2 -1.3,-2.5 0,-4.0 C1.3,-2.5 1.3,-1.2 0,0 Z"/></g><path d="M-6.6,-5 L-6.6,19.8 M10,-2.5 L10,3.5 M0.7,10 L0.7,19.8 M-13.8,13.5 L-13.8,19.8 M13.5,12.5 L13.5,19.8"/><path d="M-19.8,22.4 L-17,19.8 L-3,19.8 M-1,19.8 L6,19.8 M8,19.8 L17,19.8 L19.9,22.4"/><path d="M-10.5,19.8 l2.2,-2.6 M3.5,19.8 l-2,-2.6 M16,19.8 l-1.8,-2.4"/></g><g filter="url(#b4)" opacity="0.96"><g transform="translate(1220.9,373.4)" fill="none" stroke="#f4409e" stroke-width="1.8" stroke-linecap="round" stroke-linejoin="round"><path d="M-5.5,-17.5 C-6.5,-23 -1,-26 2.5,-24 C6,-25 9.5,-22 8.5,-18 C12.5,-18 14,-14 12,-11.5"/><path d="M-5.5,-17.5 C-8,-17 -9,-14.5 -8.2,-12.5"/><path d="M-1,-19 C1,-21.5 5,-21 5.5,-17.5 M-6,-12 C-3.5,-14 0,-13.5 1,-11"/><path d="M-15.5,-16.5 C-11.5,-17.5 -9.5,-14.5 -10.5,-11.5 C-14,-11 -16,-13 -15.5,-16.5 Z M-10.5,-11.5 L-13,-4.5"/><path d="M-13,-4.5 C-10,-5.5 -8,-4.5 -6.5,-3"/><path d="M-19.5,2.5 C-19.5,-1.5 -17,-3.5 -14,-3.5 C-13.5,0 -15.5,3.5 -19.5,2.5 Z"/><path d="M-18,6 C-15,6.5 -13,5 -12.5,2.5"/><path d="M-4.5,-8.5 C-1.5,-11 2,-10.5 3,-6.5 C0,-4.5 -3.5,-5.5 -4.5,-8.5 Z M-3,-8 L1.5,-6.5"/><path d="M2,-11 C5,-11 6,-8 4.5,-5.5"/><path d="M-3,-5 C-1,-3.5 2,-3.5 3.5,-5"/><path d="M10,-10.5 C13.5,-10 15.5,-7 14.5,-3.5 C11,-4.5 9.5,-7 10,-10.5 Z"/><path d="M18,-7.5 C19,-4 17.5,-1.5 14,-1 "/><path d="M7.5,-3.5 C10,-1.5 13,-1 15.5,-2.5"/><path d="M17,1.5 C19.5,4 19,8 16.5,10 M12,5 C15,4 17,5.5 16.5,8.5 C14,9 12,7.5 12,5 Z"/><path d="M-16.5,7.5 C-17.5,12 -15,15.5 -11.5,16"/><path d="M-11.5,16 C-9,17.5 -7.5,17 -6.5,16"/><path d="M-7.5,12.5 C-8,19 -4,23.5 1,23.5 C6,23.5 9.5,19 9,12.5"/><path d="M9,16.5 C12,17.5 16,16 17.5,12.5 C18.5,10 18,8.5 17,7"/><path d="M-12.5,3 C-9.5,2.5 -7.5,4 -6.5,6 M6.5,5.5 C8.5,3.5 11,3 13,4"/><path d="M0.3,3.5 C-1.5,6 -1.5,8.5 0.3,9.5 C2.1,8.5 2.1,6 0.3,3.5 Z M-3,12 C-1.5,9.5 2,9.5 3.5,12"/></g></g><g transform="translate(1220.9,373.4)" fill="none" stroke="#f4409e" stroke-width="1.8" stroke-linecap="round" stroke-linejoin="round"><path d="M-5.5,-17.5 C-6.5,-23 -1,-26 2.5,-24 C6,-25 9.5,-22 8.5,-18 C12.5,-18 14,-14 12,-11.5"/><path d="M-5.5,-17.5 C-8,-17 -9,-14.5 -8.2,-12.5"/><path d="M-1,-19 C1,-21.5 5,-21 5.5,-17.5 M-6,-12 C-3.5,-14 0,-13.5 1,-11"/><path d="M-15.5,-16.5 C-11.5,-17.5 -9.5,-14.5 -10.5,-11.5 C-14,-11 -16,-13 -15.5,-16.5 Z M-10.5,-11.5 L-13,-4.5"/><path d="M-13,-4.5 C-10,-5.5 -8,-4.5 -6.5,-3"/><path d="M-19.5,2.5 C-19.5,-1.5 -17,-3.5 -14,-3.5 C-13.5,0 -15.5,3.5 -19.5,2.5 Z"/><path d="M-18,6 C-15,6.5 -13,5 -12.5,2.5"/><path d="M-4.5,-8.5 C-1.5,-11 2,-10.5 3,-6.5 C0,-4.5 -3.5,-5.5 -4.5,-8.5 Z M-3,-8 L1.5,-6.5"/><path d="M2,-11 C5,-11 6,-8 4.5,-5.5"/><path d="M-3,-5 C-1,-3.5 2,-3.5 3.5,-5"/><path d="M10,-10.5 C13.5,-10 15.5,-7 14.5,-3.5 C11,-4.5 9.5,-7 10,-10.5 Z"/><path d="M18,-7.5 C19,-4 17.5,-1.5 14,-1 "/><path d="M7.5,-3.5 C10,-1.5 13,-1 15.5,-2.5"/><path d="M17,1.5 C19.5,4 19,8 16.5,10 M12,5 C15,4 17,5.5 16.5,8.5 C14,9 12,7.5 12,5 Z"/><path d="M-16.5,7.5 C-17.5,12 -15,15.5 -11.5,16"/><path d="M-11.5,16 C-9,17.5 -7.5,17 -6.5,16"/><path d="M-7.5,12.5 C-8,19 -4,23.5 1,23.5 C6,23.5 9.5,19 9,12.5"/><path d="M9,16.5 C12,17.5 16,16 17.5,12.5 C18.5,10 18,8.5 17,7"/><path d="M-12.5,3 C-9.5,2.5 -7.5,4 -6.5,6 M6.5,5.5 C8.5,3.5 11,3 13,4"/><path d="M0.3,3.5 C-1.5,6 -1.5,8.5 0.3,9.5 C2.1,8.5 2.1,6 0.3,3.5 Z M-3,12 C-1.5,9.5 2,9.5 3.5,12"/></g><g><text x="98.3" y="439.9" font-size="42.5" font-weight="700" fill="#fff" textLength="135.3" lengthAdjust="spacingAndGlyphs" stroke="#fff" stroke-width="0.6">3000K</text><text x="96.0" y="473.8" font-size="21.5" font-weight="400" fill="#f4f4fa" textLength="135.0" lengthAdjust="spacingAndGlyphs" >Unterstützt die</text><text x="37.6" y="500.1" font-size="21.5" font-weight="400" fill="#f4f4fa" textLength="257.9" lengthAdjust="spacingAndGlyphs" >Blütenbildung von Pflanzen</text></g>
<g><text x="338.2" y="439.9" font-size="42.5" font-weight="700" fill="#fff" textLength="138.4" lengthAdjust="spacingAndGlyphs" stroke="#fff" stroke-width="0.6">4000K</text><text x="309.5" y="473.8" font-size="21.5" font-weight="400" fill="#f4f4fa" textLength="194.8" lengthAdjust="spacingAndGlyphs" >Fördert die Keimung</text><text x="348.0" y="500.1" font-size="21.5" font-weight="400" fill="#f4f4fa" textLength="119.3" lengthAdjust="spacingAndGlyphs" >von Pflanzen</text></g>
<g><text x="665.8" y="439.9" font-size="42.5" font-weight="700" fill="#fff" textLength="134.8" lengthAdjust="spacingAndGlyphs" stroke="#fff" stroke-width="0.6">395nm</text><text x="671.5" y="473.8" font-size="21.5" font-weight="400" fill="#f4f4fa" textLength="122.5" lengthAdjust="spacingAndGlyphs" >Fördert THC-</text><text x="675.2" y="500.1" font-size="21.5" font-weight="400" fill="#f4f4fa" textLength="113.1" lengthAdjust="spacingAndGlyphs" >Entwicklung</text></g>
<g><text x="911.1" y="439.9" font-size="42.5" font-weight="700" fill="#fff" textLength="137.7" lengthAdjust="spacingAndGlyphs" stroke="#fff" stroke-width="0.6">660nm</text><text x="857.4" y="473.8" font-size="21.5" font-weight="400" fill="#f4f4fa" textLength="242.6" lengthAdjust="spacingAndGlyphs" >Fördert die Blütenbildung</text><text x="922.9" y="500.1" font-size="21.5" font-weight="400" fill="#f4f4fa" textLength="119.9" lengthAdjust="spacingAndGlyphs" >von Pflanzen</text></g>
<g><text x="1165.2" y="439.9" font-size="42.5" font-weight="700" fill="#fff" textLength="134.3" lengthAdjust="spacingAndGlyphs" stroke="#fff" stroke-width="0.6">730nm</text><text x="1182.4" y="473.8" font-size="21.5" font-weight="400" fill="#f4f4fa" textLength="99.0" lengthAdjust="spacingAndGlyphs" >Verbessert</text><text x="1184.4" y="500.1" font-size="21.5" font-weight="400" fill="#f4f4fa" textLength="100.0" lengthAdjust="spacingAndGlyphs" >den Ertrag</text></g>
<line x1="480.3" y1="792.4" x2="480.3" y2="1331" stroke="#ffffff" stroke-opacity="0.16" stroke-width="1"/><line x1="709.3" y1="792.4" x2="709.3" y2="1331" stroke="#ffffff" stroke-opacity="0.16" stroke-width="1"/><line x1="937.7" y1="792.4" x2="937.7" y2="1331" stroke="#ffffff" stroke-opacity="0.16" stroke-width="1"/><line x1="1166.4" y1="792.4" x2="1166.4" y2="1331" stroke="#ffffff" stroke-opacity="0.16" stroke-width="1"/><line x1="251" y1="792.4" x2="1166.4" y2="792.4" stroke="#ffffff" stroke-opacity="0.16" stroke-width="1"/><line x1="251" y1="926.5" x2="1166.4" y2="926.5" stroke="#ffffff" stroke-opacity="0.16" stroke-width="1"/><line x1="251" y1="1060.3" x2="1166.4" y2="1060.3" stroke="#ffffff" stroke-opacity="0.16" stroke-width="1"/><line x1="251" y1="1194.1" x2="1166.4" y2="1194.1" stroke="#ffffff" stroke-opacity="0.16" stroke-width="1"/><rect x="251" y="1332" width="916" height="50.8" fill="url(#spec)"/><rect x="251" y="1332" width="916" height="50.8" fill="url(#bandfade)"/><path d="M252.0,1330.5 C253.0,1330.2 254.2,1329.4 258.0,1329.0 C261.8,1328.6 268.0,1328.4 275.0,1328.3 C282.0,1328.2 294.0,1328.2 300.0,1328.2 C306.0,1328.2 308.1,1328.4 311.0,1328.2 C313.9,1328.0 315.4,1328.2 317.3,1327.3 C319.2,1326.4 320.8,1325.3 322.5,1323.0 C324.2,1320.7 325.7,1319.9 327.7,1313.7 C329.7,1307.5 332.3,1296.4 334.6,1286.0 C336.9,1275.6 339.2,1261.2 341.5,1251.4 C343.8,1241.6 346.4,1232.4 348.4,1227.2 C350.4,1222.0 351.6,1219.9 353.6,1220.2 C355.6,1220.5 358.0,1222.6 360.6,1228.9 C363.2,1235.2 366.0,1248.5 369.2,1258.3 C372.4,1268.1 376.4,1280.8 379.6,1287.7 C382.8,1294.6 385.6,1297.1 388.2,1299.8 C390.8,1302.5 392.6,1304.3 395.2,1304.0 C397.8,1303.7 400.9,1301.9 403.8,1298.0 C406.7,1294.1 409.9,1288.0 412.5,1280.8 C415.1,1273.6 417.4,1264.3 419.4,1254.8 C421.4,1245.3 422.9,1236.4 424.6,1223.7 C426.3,1211.0 428.4,1193.7 429.8,1178.7 C431.2,1163.7 432.1,1149.3 433.2,1133.7 C434.3,1118.1 435.5,1103.8 436.7,1085.3 C437.9,1066.8 439.0,1042.0 440.1,1023.0 C441.2,1004.0 442.4,987.2 443.6,971.1 C444.8,955.0 446.0,939.4 447.1,926.1 C448.2,912.8 449.5,899.6 450.5,891.5 C451.5,883.4 452.3,880.8 453.3,877.7 C454.3,874.6 455.3,872.8 456.4,872.8 C457.5,872.8 458.9,874.0 459.9,877.7 C460.9,881.4 461.6,885.2 462.6,895.0 C463.6,904.8 464.9,922.1 466.1,936.5 C467.3,950.9 468.5,967.1 469.6,981.5 C470.8,995.9 471.6,1008.0 473.0,1023.0 C474.4,1038.0 476.5,1057.1 478.2,1071.5 C479.9,1085.9 481.4,1097.4 483.4,1109.5 C485.4,1121.6 488.0,1134.3 490.3,1144.1 C492.6,1153.9 494.9,1161.1 497.2,1168.3 C499.5,1175.5 502.2,1182.8 504.2,1187.4 C506.2,1192.0 507.6,1194.0 509.3,1196.0 C511.0,1198.0 512.5,1199.8 514.5,1199.5 C516.5,1199.2 519.2,1197.8 521.5,1194.3 C523.8,1190.8 526.1,1185.0 528.4,1178.7 C530.7,1172.4 533.0,1164.3 535.3,1156.2 C537.6,1148.1 539.6,1139.8 542.2,1130.3 C544.8,1120.8 548.0,1108.9 550.9,1099.1 C553.8,1089.3 556.6,1079.8 559.5,1071.5 C562.4,1063.2 565.3,1055.6 568.2,1049.0 C571.1,1042.4 573.6,1036.9 576.8,1031.7 C580.0,1026.5 583.8,1021.8 587.2,1017.8 C590.6,1013.8 593.6,1011.3 597.4,1008.0 C601.2,1004.7 605.6,1001.5 609.8,998.0 C613.9,994.5 618.1,991.0 622.3,986.8 C626.4,982.6 630.6,978.0 634.7,973.0 C638.9,968.0 643.0,962.7 647.2,956.9 C651.4,951.1 655.6,945.1 659.7,938.2 C663.9,931.4 668.0,923.7 672.1,915.8 C676.2,907.9 680.5,899.2 684.6,890.9 C688.8,882.6 692.9,874.3 697.0,866.0 C701.1,857.7 705.4,848.7 709.5,841.0 C713.6,833.3 717.8,826.1 721.9,819.9 C726.0,813.7 730.6,807.7 734.4,803.7 C738.1,799.8 741.5,797.8 744.4,796.2 C747.3,794.6 749.3,794.1 751.8,794.2 C754.3,794.3 756.8,794.9 759.3,796.7 C761.8,798.5 764.3,801.5 766.8,804.9 C769.3,808.3 771.4,812.0 774.3,817.4 C777.2,822.8 780.5,829.8 784.2,837.3 C787.9,844.8 792.6,854.3 796.7,862.2 C800.9,870.1 805.0,878.0 809.1,884.6 C813.2,891.2 817.9,897.5 821.6,902.1 C825.4,906.7 828.9,909.9 831.6,912.0 C834.3,914.1 835.7,914.7 837.8,914.5 C839.9,914.3 841.9,913.5 844.0,910.8 C846.1,908.1 848.3,903.5 850.2,898.3 C852.1,893.1 853.5,886.6 855.2,879.7 C856.9,872.9 858.7,863.2 860.2,857.2 C861.7,851.2 863.0,846.4 864.4,843.5 C865.8,840.6 867.4,839.6 868.9,839.8 C870.4,840.0 872.1,841.5 873.4,844.8 C874.6,848.1 875.3,851.8 876.4,859.7 C877.5,867.6 878.9,879.6 880.1,892.1 C881.4,904.6 882.6,920.0 883.9,934.5 C885.1,949.0 886.4,965.2 887.6,979.3 C888.8,993.4 890.0,1006.8 891.3,1019.2 C892.5,1031.7 893.9,1043.9 895.1,1054.0 C896.3,1064.1 897.6,1070.7 898.6,1080.0 C899.6,1089.3 900.1,1099.8 901.1,1109.8 C902.1,1119.8 903.3,1131.0 904.8,1139.7 C906.2,1148.4 907.7,1154.6 909.8,1162.1 C911.9,1169.6 914.8,1177.9 917.3,1184.5 C919.8,1191.1 921.9,1196.1 924.8,1201.9 C927.7,1207.7 931.0,1213.8 934.7,1219.4 C938.4,1225.0 943.0,1231.2 947.2,1235.6 C951.4,1239.9 955.6,1242.9 959.7,1245.5 C963.9,1248.1 968.0,1250.0 972.1,1251.3 C976.2,1252.5 980.5,1252.8 984.6,1253.0 C988.8,1253.2 993.5,1252.5 997.0,1252.5 C1000.5,1252.5 1003.2,1252.2 1005.7,1252.8 C1008.2,1253.4 1010.1,1254.3 1012.0,1256.2 C1013.9,1258.1 1014.9,1260.6 1017.0,1264.2 C1019.1,1267.8 1021.5,1273.1 1024.4,1277.9 C1027.3,1282.7 1030.7,1288.1 1034.4,1292.9 C1038.1,1297.7 1042.7,1303.1 1046.8,1306.6 C1050.9,1310.1 1055.1,1312.0 1059.3,1314.0 C1063.5,1316.0 1067.6,1317.2 1071.8,1318.3 C1076.0,1319.3 1078.0,1319.5 1084.2,1320.3 C1090.4,1321.0 1100.8,1322.0 1109.1,1322.8 C1117.4,1323.5 1126.5,1324.1 1134.0,1324.8 C1141.5,1325.5 1149.0,1326.3 1154.0,1327.0 C1159.0,1327.7 1161.7,1328.4 1163.9,1329.0 C1166.1,1329.6 1166.7,1330.3 1167.2,1330.6 L1167,1332 L251,1332 Z" fill="url(#spec)"/><path d="M252.0,1330.5 C253.0,1330.2 254.2,1329.4 258.0,1329.0 C261.8,1328.6 268.0,1328.4 275.0,1328.3 C282.0,1328.2 294.0,1328.2 300.0,1328.2 C306.0,1328.2 308.1,1328.4 311.0,1328.2 C313.9,1328.0 315.4,1328.2 317.3,1327.3 C319.2,1326.4 320.8,1325.3 322.5,1323.0 C324.2,1320.7 325.7,1319.9 327.7,1313.7 C329.7,1307.5 332.3,1296.4 334.6,1286.0 C336.9,1275.6 339.2,1261.2 341.5,1251.4 C343.8,1241.6 346.4,1232.4 348.4,1227.2 C350.4,1222.0 351.6,1219.9 353.6,1220.2 C355.6,1220.5 358.0,1222.6 360.6,1228.9 C363.2,1235.2 366.0,1248.5 369.2,1258.3 C372.4,1268.1 376.4,1280.8 379.6,1287.7 C382.8,1294.6 385.6,1297.1 388.2,1299.8 C390.8,1302.5 392.6,1304.3 395.2,1304.0 C397.8,1303.7 400.9,1301.9 403.8,1298.0 C406.7,1294.1 409.9,1288.0 412.5,1280.8 C415.1,1273.6 417.4,1264.3 419.4,1254.8 C421.4,1245.3 422.9,1236.4 424.6,1223.7 C426.3,1211.0 428.4,1193.7 429.8,1178.7 C431.2,1163.7 432.1,1149.3 433.2,1133.7 C434.3,1118.1 435.5,1103.8 436.7,1085.3 C437.9,1066.8 439.0,1042.0 440.1,1023.0 C441.2,1004.0 442.4,987.2 443.6,971.1 C444.8,955.0 446.0,939.4 447.1,926.1 C448.2,912.8 449.5,899.6 450.5,891.5 C451.5,883.4 452.3,880.8 453.3,877.7 C454.3,874.6 455.3,872.8 456.4,872.8 C457.5,872.8 458.9,874.0 459.9,877.7 C460.9,881.4 461.6,885.2 462.6,895.0 C463.6,904.8 464.9,922.1 466.1,936.5 C467.3,950.9 468.5,967.1 469.6,981.5 C470.8,995.9 471.6,1008.0 473.0,1023.0 C474.4,1038.0 476.5,1057.1 478.2,1071.5 C479.9,1085.9 481.4,1097.4 483.4,1109.5 C485.4,1121.6 488.0,1134.3 490.3,1144.1 C492.6,1153.9 494.9,1161.1 497.2,1168.3 C499.5,1175.5 502.2,1182.8 504.2,1187.4 C506.2,1192.0 507.6,1194.0 509.3,1196.0 C511.0,1198.0 512.5,1199.8 514.5,1199.5 C516.5,1199.2 519.2,1197.8 521.5,1194.3 C523.8,1190.8 526.1,1185.0 528.4,1178.7 C530.7,1172.4 533.0,1164.3 535.3,1156.2 C537.6,1148.1 539.6,1139.8 542.2,1130.3 C544.8,1120.8 548.0,1108.9 550.9,1099.1 C553.8,1089.3 556.6,1079.8 559.5,1071.5 C562.4,1063.2 565.3,1055.6 568.2,1049.0 C571.1,1042.4 573.6,1036.9 576.8,1031.7 C580.0,1026.5 583.8,1021.8 587.2,1017.8 C590.6,1013.8 593.6,1011.3 597.4,1008.0 C601.2,1004.7 605.6,1001.5 609.8,998.0 C613.9,994.5 618.1,991.0 622.3,986.8 C626.4,982.6 630.6,978.0 634.7,973.0 C638.9,968.0 643.0,962.7 647.2,956.9 C651.4,951.1 655.6,945.1 659.7,938.2 C663.9,931.4 668.0,923.7 672.1,915.8 C676.2,907.9 680.5,899.2 684.6,890.9 C688.8,882.6 692.9,874.3 697.0,866.0 C701.1,857.7 705.4,848.7 709.5,841.0 C713.6,833.3 717.8,826.1 721.9,819.9 C726.0,813.7 730.6,807.7 734.4,803.7 C738.1,799.8 741.5,797.8 744.4,796.2 C747.3,794.6 749.3,794.1 751.8,794.2 C754.3,794.3 756.8,794.9 759.3,796.7 C761.8,798.5 764.3,801.5 766.8,804.9 C769.3,808.3 771.4,812.0 774.3,817.4 C777.2,822.8 780.5,829.8 784.2,837.3 C787.9,844.8 792.6,854.3 796.7,862.2 C800.9,870.1 805.0,878.0 809.1,884.6 C813.2,891.2 817.9,897.5 821.6,902.1 C825.4,906.7 828.9,909.9 831.6,912.0 C834.3,914.1 835.7,914.7 837.8,914.5 C839.9,914.3 841.9,913.5 844.0,910.8 C846.1,908.1 848.3,903.5 850.2,898.3 C852.1,893.1 853.5,886.6 855.2,879.7 C856.9,872.9 858.7,863.2 860.2,857.2 C861.7,851.2 863.0,846.4 864.4,843.5 C865.8,840.6 867.4,839.6 868.9,839.8 C870.4,840.0 872.1,841.5 873.4,844.8 C874.6,848.1 875.3,851.8 876.4,859.7 C877.5,867.6 878.9,879.6 880.1,892.1 C881.4,904.6 882.6,920.0 883.9,934.5 C885.1,949.0 886.4,965.2 887.6,979.3 C888.8,993.4 890.0,1006.8 891.3,1019.2 C892.5,1031.7 893.9,1043.9 895.1,1054.0 C896.3,1064.1 897.6,1070.7 898.6,1080.0 C899.6,1089.3 900.1,1099.8 901.1,1109.8 C902.1,1119.8 903.3,1131.0 904.8,1139.7 C906.2,1148.4 907.7,1154.6 909.8,1162.1 C911.9,1169.6 914.8,1177.9 917.3,1184.5 C919.8,1191.1 921.9,1196.1 924.8,1201.9 C927.7,1207.7 931.0,1213.8 934.7,1219.4 C938.4,1225.0 943.0,1231.2 947.2,1235.6 C951.4,1239.9 955.6,1242.9 959.7,1245.5 C963.9,1248.1 968.0,1250.0 972.1,1251.3 C976.2,1252.5 980.5,1252.8 984.6,1253.0 C988.8,1253.2 993.5,1252.5 997.0,1252.5 C1000.5,1252.5 1003.2,1252.2 1005.7,1252.8 C1008.2,1253.4 1010.1,1254.3 1012.0,1256.2 C1013.9,1258.1 1014.9,1260.6 1017.0,1264.2 C1019.1,1267.8 1021.5,1273.1 1024.4,1277.9 C1027.3,1282.7 1030.7,1288.1 1034.4,1292.9 C1038.1,1297.7 1042.7,1303.1 1046.8,1306.6 C1050.9,1310.1 1055.1,1312.0 1059.3,1314.0 C1063.5,1316.0 1067.6,1317.2 1071.8,1318.3 C1076.0,1319.3 1078.0,1319.5 1084.2,1320.3 C1090.4,1321.0 1100.8,1322.0 1109.1,1322.8 C1117.4,1323.5 1126.5,1324.1 1134.0,1324.8 C1141.5,1325.5 1149.0,1326.3 1154.0,1327.0 C1159.0,1327.7 1161.7,1328.4 1163.9,1329.0 C1166.1,1329.6 1166.7,1330.3 1167.2,1330.6" fill="none" stroke="#fff" stroke-width="2.5" stroke-linejoin="round" stroke-linecap="round"/><line x1="251" y1="791.5" x2="251" y2="1332.5" stroke="#fff" stroke-width="2.4"/><line x1="250" y1="1331.6" x2="1167.5" y2="1331.6" stroke="#fff" stroke-width="2.4"/><text x="272.0" y="821.8" font-size="21" font-weight="400" fill="#e6e6f2" textLength="155.0" lengthAdjust="spacingAndGlyphs" >Wellenlänge (nm)</text><g filter="url(#ts)"><text y="1367" font-size="32.5" font-weight="400" fill="#fff" stroke="#fff" stroke-width="0.9"><tspan x="269.9" textLength="86.6" lengthAdjust="spacingAndGlyphs">Stelle</tspan> <tspan x="368.6" textLength="48.4" lengthAdjust="spacingAndGlyphs">die</tspan> <tspan x="430.7" textLength="139.1" lengthAdjust="spacingAndGlyphs">Spektren</tspan> <tspan x="581.9" textLength="120.0" lengthAdjust="spacingAndGlyphs">optimal</tspan> <tspan x="709.9" textLength="26.1" lengthAdjust="spacingAndGlyphs">je</tspan> <tspan x="751.3" textLength="72.3" lengthAdjust="spacingAndGlyphs">nach</tspan> <tspan x="835.7" textLength="255.3" lengthAdjust="spacingAndGlyphs">Wachstumphase</tspan> <tspan x="1103.1" textLength="46.8" lengthAdjust="spacingAndGlyphs">ein</tspan></text></g><text x="251.0" y="1422.2" font-size="27" font-weight="400" fill="#fff" textLength="48.7" lengthAdjust="spacingAndGlyphs" stroke="#fff" stroke-width="0.8">350</text><text x="445.4" y="1422.2" font-size="27" font-weight="400" fill="#fff" textLength="51.1" lengthAdjust="spacingAndGlyphs" stroke="#fff" stroke-width="0.8">463</text><text x="688.2" y="1422.2" font-size="27" font-weight="400" fill="#fff" textLength="49.8" lengthAdjust="spacingAndGlyphs" stroke="#fff" stroke-width="0.8">575</text><text x="907.3" y="1422.2" font-size="27" font-weight="400" fill="#fff" textLength="49.3" lengthAdjust="spacingAndGlyphs" stroke="#fff" stroke-width="0.8">688</text><text x="1140.0" y="1422.2" font-size="27" font-weight="400" fill="#fff" textLength="51.3" lengthAdjust="spacingAndGlyphs" stroke="#fff" stroke-width="0.8">800</text><g transform="translate(241.3,839.0) rotate(-90)"><text x="0.0" y="0.0" font-size="21" font-weight="400" fill="#fff" textLength="57.0" lengthAdjust="spacingAndGlyphs" stroke="#fff" stroke-width="0.8">1.000</text></g><g transform="translate(241.3,961.5) rotate(-90)"><text x="0.0" y="0.0" font-size="21" font-weight="400" fill="#fff" textLength="57.0" lengthAdjust="spacingAndGlyphs" stroke="#fff" stroke-width="0.8">0.750</text></g><g transform="translate(241.3,1085.0) rotate(-90)"><text x="0.0" y="0.0" font-size="21" font-weight="400" fill="#fff" textLength="57.0" lengthAdjust="spacingAndGlyphs" stroke="#fff" stroke-width="0.8">0.500</text></g><g transform="translate(241.3,1208.5) rotate(-90)"><text x="0.0" y="0.0" font-size="21" font-weight="400" fill="#fff" textLength="57.0" lengthAdjust="spacingAndGlyphs" stroke="#fff" stroke-width="0.8">0.250</text></g><g transform="translate(241.3,1334.5) rotate(-90)"><text x="0.0" y="0.0" font-size="21" font-weight="400" fill="#fff" textLength="57.0" lengthAdjust="spacingAndGlyphs" stroke="#fff" stroke-width="0.8">0.000</text></g>
</svg>
</body>
</html>
